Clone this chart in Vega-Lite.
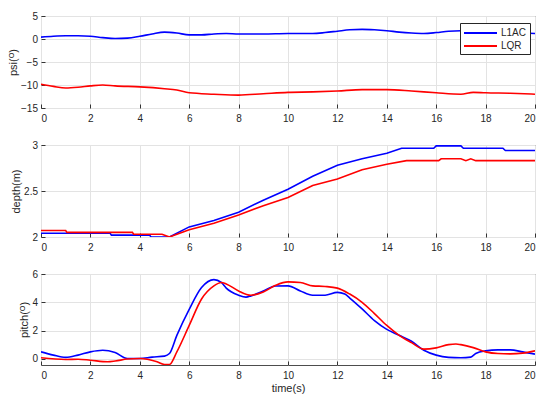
{
  "$schema": "https://vega.github.io/schema/vega-lite/v6.json",
  "padding": {"left": 7, "top": 10, "right": 5, "bottom": 5},
  "background": "white",
  "spacing": 37,
  "bounds": "flush",
  "datasets": {
    "psi": [
      {"t":0,"v":0.4,"c":"L1AC"},{"t":0.5,"v":0.6,"c":"L1AC"},{"t":1,"v":0.7,"c":"L1AC"},{"t":1.5,"v":0.7,"c":"L1AC"},{"t":2,"v":0.6,"c":"L1AC"},{"t":2.5,"v":0.3,"c":"L1AC"},{"t":3,"v":0.1,"c":"L1AC"},{"t":3.5,"v":0.2,"c":"L1AC"},{"t":4,"v":0.6,"c":"L1AC"},{"t":4.5,"v":1.1,"c":"L1AC"},{"t":5,"v":1.5,"c":"L1AC"},{"t":5.5,"v":1.3,"c":"L1AC"},{"t":6,"v":0.9,"c":"L1AC"},{"t":6.5,"v":0.9,"c":"L1AC"},{"t":7,"v":1.1,"c":"L1AC"},{"t":7.5,"v":1.2,"c":"L1AC"},{"t":8,"v":1.1,"c":"L1AC"},{"t":9,"v":1.1,"c":"L1AC"},{"t":10,"v":1.2,"c":"L1AC"},{"t":11,"v":1.2,"c":"L1AC"},{"t":11.5,"v":1.4,"c":"L1AC"},{"t":12,"v":1.7,"c":"L1AC"},{"t":12.5,"v":2.0,"c":"L1AC"},{"t":13,"v":2.1,"c":"L1AC"},{"t":13.5,"v":2.0,"c":"L1AC"},{"t":14,"v":1.8,"c":"L1AC"},{"t":14.5,"v":1.5,"c":"L1AC"},{"t":15,"v":1.3,"c":"L1AC"},{"t":15.5,"v":1.2,"c":"L1AC"},{"t":16,"v":1.4,"c":"L1AC"},{"t":16.5,"v":1.7,"c":"L1AC"},{"t":17,"v":1.8,"c":"L1AC"},{"t":17.5,"v":1.8,"c":"L1AC"},{"t":18,"v":1.7,"c":"L1AC"},{"t":18.5,"v":1.5,"c":"L1AC"},{"t":19,"v":1.4,"c":"L1AC"},{"t":19.5,"v":1.3,"c":"L1AC"},{"t":20,"v":1.2,"c":"L1AC"},
      {"t":0,"v":-9.85,"c":"LQR"},{"t":0.5,"v":-10.3,"c":"LQR"},{"t":1,"v":-10.65,"c":"LQR"},{"t":1.5,"v":-10.5,"c":"LQR"},{"t":2,"v":-10.2,"c":"LQR"},{"t":2.5,"v":-10.0,"c":"LQR"},{"t":3,"v":-10.2,"c":"LQR"},{"t":4,"v":-10.4,"c":"LQR"},{"t":5,"v":-10.8,"c":"LQR"},{"t":5.5,"v":-11.1,"c":"LQR"},{"t":6,"v":-11.7,"c":"LQR"},{"t":7,"v":-12.0,"c":"LQR"},{"t":8,"v":-12.2,"c":"LQR"},{"t":9,"v":-11.9,"c":"LQR"},{"t":10,"v":-11.6,"c":"LQR"},{"t":11,"v":-11.5,"c":"LQR"},{"t":12,"v":-11.3,"c":"LQR"},{"t":13,"v":-11.0,"c":"LQR"},{"t":14,"v":-11.0,"c":"LQR"},{"t":15,"v":-11.3,"c":"LQR"},{"t":16,"v":-11.7,"c":"LQR"},{"t":17,"v":-12.0,"c":"LQR"},{"t":17.5,"v":-11.6,"c":"LQR"},{"t":18,"v":-11.7,"c":"LQR"},{"t":19,"v":-11.8,"c":"LQR"},{"t":20,"v":-12.0,"c":"LQR"}
    ],
    "depth": [
      {"t":0,"v":2.04,"c":"L1AC"},{"t":2.8,"v":2.04,"c":"L1AC"},{"t":2.85,"v":2.02,"c":"L1AC"},{"t":4.4,"v":2.02,"c":"L1AC"},{"t":4.45,"v":2.0,"c":"L1AC"},{"t":5.2,"v":2.0,"c":"L1AC"},{"t":6,"v":2.11,"c":"L1AC"},{"t":7,"v":2.18,"c":"L1AC"},{"t":8,"v":2.27,"c":"L1AC"},{"t":9,"v":2.4,"c":"L1AC"},{"t":10,"v":2.52,"c":"L1AC"},{"t":11,"v":2.66,"c":"L1AC"},{"t":12,"v":2.78,"c":"L1AC"},{"t":13,"v":2.85,"c":"L1AC"},{"t":14,"v":2.91,"c":"L1AC"},{"t":14.6,"v":2.965,"c":"L1AC"},{"t":15.9,"v":2.965,"c":"L1AC"},{"t":16,"v":2.99,"c":"L1AC"},{"t":17,"v":2.99,"c":"L1AC"},{"t":17.1,"v":2.965,"c":"L1AC"},{"t":18.7,"v":2.965,"c":"L1AC"},{"t":18.8,"v":2.94,"c":"L1AC"},{"t":20,"v":2.94,"c":"L1AC"},
      {"t":0,"v":2.07,"c":"LQR"},{"t":1,"v":2.07,"c":"LQR"},{"t":1.05,"v":2.05,"c":"LQR"},{"t":3.7,"v":2.05,"c":"LQR"},{"t":3.75,"v":2.03,"c":"LQR"},{"t":4.9,"v":2.03,"c":"LQR"},{"t":5.2,"v":2.0,"c":"LQR"},{"t":6,"v":2.08,"c":"LQR"},{"t":7,"v":2.15,"c":"LQR"},{"t":8,"v":2.24,"c":"LQR"},{"t":9,"v":2.34,"c":"LQR"},{"t":10,"v":2.43,"c":"LQR"},{"t":11,"v":2.56,"c":"LQR"},{"t":12,"v":2.63,"c":"LQR"},{"t":13,"v":2.73,"c":"LQR"},{"t":14,"v":2.79,"c":"LQR"},{"t":14.8,"v":2.83,"c":"LQR"},{"t":16.1,"v":2.83,"c":"LQR"},{"t":16.2,"v":2.85,"c":"LQR"},{"t":17,"v":2.85,"c":"LQR"},{"t":17.2,"v":2.83,"c":"LQR"},{"t":17.4,"v":2.85,"c":"LQR"},{"t":17.6,"v":2.83,"c":"LQR"},{"t":20,"v":2.83,"c":"LQR"}
    ],
    "pitch": [
      {"t":0,"v":0.49,"c":"L1AC"},{"t":0.5,"v":0.26,"c":"L1AC"},{"t":1,"v":0.1,"c":"L1AC"},{"t":1.5,"v":0.26,"c":"L1AC"},{"t":2,"v":0.49,"c":"L1AC"},{"t":2.5,"v":0.6,"c":"L1AC"},{"t":3,"v":0.44,"c":"L1AC"},{"t":3.5,"v":0.02,"c":"L1AC"},{"t":4,"v":0.02,"c":"L1AC"},{"t":4.5,"v":0.12,"c":"L1AC"},{"t":5,"v":0.19,"c":"L1AC"},{"t":5.2,"v":0.37,"c":"L1AC"},{"t":5.5,"v":1.66,"c":"L1AC"},{"t":6,"v":3.5,"c":"L1AC"},{"t":6.5,"v":5.04,"c":"L1AC"},{"t":7,"v":5.6,"c":"L1AC"},{"t":7.3,"v":5.4,"c":"L1AC"},{"t":7.5,"v":5.0,"c":"L1AC"},{"t":8,"v":4.5,"c":"L1AC"},{"t":8.3,"v":4.36,"c":"L1AC"},{"t":8.5,"v":4.45,"c":"L1AC"},{"t":9,"v":4.8,"c":"L1AC"},{"t":9.5,"v":5.15,"c":"L1AC"},{"t":10,"v":5.16,"c":"L1AC"},{"t":10.5,"v":4.8,"c":"L1AC"},{"t":11,"v":4.5,"c":"L1AC"},{"t":11.5,"v":4.5,"c":"L1AC"},{"t":12,"v":4.7,"c":"L1AC"},{"t":12.3,"v":4.58,"c":"L1AC"},{"t":12.5,"v":4.3,"c":"L1AC"},{"t":13,"v":3.53,"c":"L1AC"},{"t":13.5,"v":2.7,"c":"L1AC"},{"t":14,"v":2.08,"c":"L1AC"},{"t":14.5,"v":1.66,"c":"L1AC"},{"t":15,"v":1.24,"c":"L1AC"},{"t":15.5,"v":0.6,"c":"L1AC"},{"t":16,"v":0.26,"c":"L1AC"},{"t":16.5,"v":0.1,"c":"L1AC"},{"t":17,"v":0.07,"c":"L1AC"},{"t":17.4,"v":0.12,"c":"L1AC"},{"t":17.6,"v":0.37,"c":"L1AC"},{"t":18,"v":0.56,"c":"L1AC"},{"t":18.5,"v":0.63,"c":"L1AC"},{"t":19,"v":0.63,"c":"L1AC"},{"t":19.5,"v":0.49,"c":"L1AC"},{"t":20,"v":0.33,"c":"L1AC"},
      {"t":0,"v":0.07,"c":"LQR"},{"t":1,"v":-0.05,"c":"LQR"},{"t":1.5,"v":-0.03,"c":"LQR"},{"t":2,"v":-0.1,"c":"LQR"},{"t":2.7,"v":-0.21,"c":"LQR"},{"t":3,"v":-0.16,"c":"LQR"},{"t":3.5,"v":-0.02,"c":"LQR"},{"t":4,"v":0.02,"c":"LQR"},{"t":4.3,"v":-0.03,"c":"LQR"},{"t":4.7,"v":-0.21,"c":"LQR"},{"t":5,"v":-0.4,"c":"LQR"},{"t":5.2,"v":-0.4,"c":"LQR"},{"t":5.5,"v":0.49,"c":"LQR"},{"t":6,"v":2.36,"c":"LQR"},{"t":6.5,"v":4.23,"c":"LQR"},{"t":7,"v":5.16,"c":"LQR"},{"t":7.3,"v":5.4,"c":"LQR"},{"t":7.5,"v":5.3,"c":"LQR"},{"t":8,"v":4.8,"c":"LQR"},{"t":8.5,"v":4.5,"c":"LQR"},{"t":9,"v":4.73,"c":"LQR"},{"t":9.5,"v":5.2,"c":"LQR"},{"t":10,"v":5.44,"c":"LQR"},{"t":10.5,"v":5.4,"c":"LQR"},{"t":11,"v":5.16,"c":"LQR"},{"t":11.5,"v":5.12,"c":"LQR"},{"t":12,"v":5.0,"c":"LQR"},{"t":12.5,"v":4.58,"c":"LQR"},{"t":13,"v":4.0,"c":"LQR"},{"t":13.5,"v":3.2,"c":"LQR"},{"t":14,"v":2.36,"c":"LQR"},{"t":14.5,"v":1.66,"c":"LQR"},{"t":15,"v":1.14,"c":"LQR"},{"t":15.5,"v":0.68,"c":"LQR"},{"t":16,"v":0.77,"c":"LQR"},{"t":16.5,"v":1.0,"c":"LQR"},{"t":16.8,"v":1.05,"c":"LQR"},{"t":17,"v":1.0,"c":"LQR"},{"t":17.5,"v":0.79,"c":"LQR"},{"t":18,"v":0.49,"c":"LQR"},{"t":18.5,"v":0.37,"c":"LQR"},{"t":19,"v":0.35,"c":"LQR"},{"t":19.5,"v":0.4,"c":"LQR"},{"t":20,"v":0.56,"c":"LQR"}
    ]
  },
  "vconcat": [
    {
      "width": 494, "height": 92,
      "data": {"name": "psi"},
      "mark": {"type": "line", "strokeWidth": 1.6, "clip": true, "interpolate": "monotone"},
      "encoding": {
        "x": {"field": "t", "type": "quantitative", "scale": {"domain": [0, 20], "nice": false}, "axis": {"title": null, "values": [0,2,4,6,8,10,12,14,16,18,20]}},
        "y": {"field": "v", "type": "quantitative", "scale": {"domain": [-15, 5], "nice": false, "zero": false}, "axis": {"title": "psi(ᴼ)", "values": [-15,-10,-5,0,5]}},
        "color": {"field": "c", "type": "nominal", "scale": {"domain": ["L1AC", "LQR"], "range": ["#0000ff", "#ff0000"]},
          "legend": {"title": null, "orient": "none", "legendX": 419, "legendY": 7, "symbolType": "M-1,0H4.5", "symbolSize": 144, "symbolStrokeWidth": 2, "labelOffset": 24, "fillColor": "white", "strokeColor": "#262626", "padding": 3, "labelFontSize": 10, "labelColor": "#262626", "rowPadding": 1}}
      }
    },
    {
      "width": 494, "height": 92,
      "data": {"name": "depth"},
      "mark": {"type": "line", "strokeWidth": 1.6, "clip": true},
      "encoding": {
        "x": {"field": "t", "type": "quantitative", "scale": {"domain": [0, 20], "nice": false}, "axis": {"title": null, "values": [0,2,4,6,8,10,12,14,16,18,20]}},
        "y": {"field": "v", "type": "quantitative", "scale": {"domain": [2, 3], "nice": false, "zero": false}, "axis": {"title": "depth(m)", "values": [2, 2.5, 3], "format": "~g"}},
        "color": {"field": "c", "type": "nominal"}
      }
    },
    {
      "width": 494, "height": 91,
      "data": {"name": "pitch"},
      "mark": {"type": "line", "strokeWidth": 1.6, "clip": true, "interpolate": "monotone"},
      "encoding": {
        "x": {"field": "t", "type": "quantitative", "scale": {"domain": [0, 20], "nice": false}, "axis": {"title": "time(s)", "values": [0,2,4,6,8,10,12,14,16,18,20]}},
        "y": {"field": "v", "type": "quantitative", "scale": {"domain": [-0.44, 6], "nice": false, "zero": false}, "axis": {"title": "pitch(ᴼ)", "values": [0, 2, 4, 6]}},
        "color": {"field": "c", "type": "nominal"}
      }
    }
  ],
  "config": {
    "font": "Liberation Sans",
    "view": {"stroke": "#4d4d4d", "strokeWidth": 1},
    "axis": {
      "grid": true, "gridColor": "#e3e3e3", "gridWidth": 1,
      "domain": false,
      "tickColor": "#333333", "tickSize": -4,
      "labelFontSize": 10, "labelColor": "#262626",
      "titleFontSize": 11, "titleFontWeight": "normal", "titleColor": "#262626"
    },
    "axisX": {"labelPadding": 9, "titlePadding": 2},
    "axisY": {"labelPadding": 7.5, "titlePadding": 2}
  }
}
